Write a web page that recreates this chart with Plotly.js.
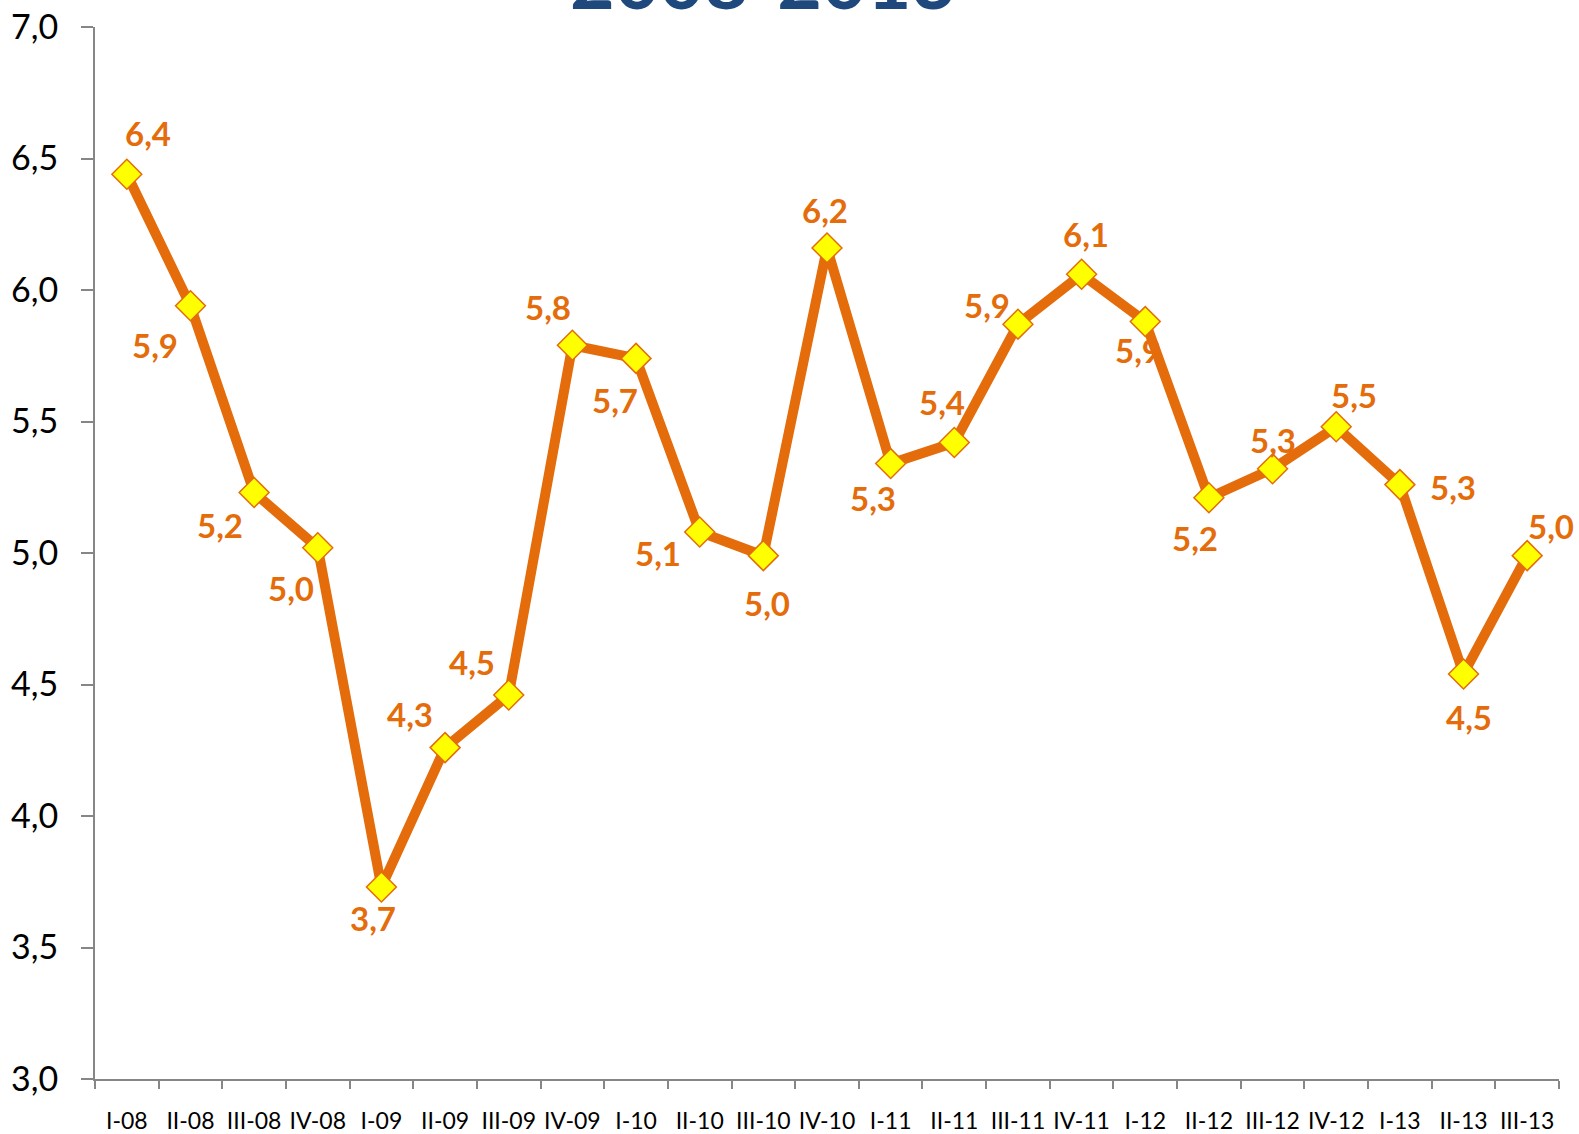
<!DOCTYPE html>
<html>
<head>
<meta charset="utf-8">
<script src="https://cdn.plot.ly/plotly-3.0.1.min.js"></script>
<style>html,body{margin:0;padding:0;background:#fff;}#chart{width:1579px;height:1134px;}</style>
</head>
<body>
<div id="chart"></div>
<script>
const categories = ["I-08","II-08","III-08","IV-08","I-09","II-09","III-09","IV-09","I-10","II-10","III-10","IV-10","I-11","II-11","III-11","IV-11","I-12","II-12","III-12","IV-12","I-13","II-13","III-13"];
const values = [6.44, 5.94, 5.23, 5.02, 3.73, 4.26, 4.46, 5.79, 5.74, 5.08, 4.99, 6.16, 5.34, 5.42, 5.87, 6.06, 5.88, 5.21, 5.32, 5.48, 5.26, 4.54, 4.99];
const yTickValues = [3.0, 3.5, 4.0, 4.5, 5.0, 5.5, 6.0, 6.5, 7.0];
const titleText = "2008-2013";

// label offsets in pixels (style only)
const labelDX = [21, -35, -34, -27, -8, -35, -37, -24, -21, -42, 4, -2, -18, -12, -31, 4, -7, -14, 0, 18, 53, 5, 24];
const labelDY = [-41, 39, 32, 40, 31, -34, -33, -38, 42, 21, 47, -38, 34, -41, -19, -40, 28, 40, -29, -32, 2, 43, -30];

const fmt = v => v.toFixed(1).replace('.', ',');

const annotations = categories.map((c, i) => ({
  x: c, y: values[i], xref: 'x', yref: 'y',
  text: '<b>' + fmt(values[i]) + '</b>',
  showarrow: false, xshift: labelDX[i], yshift: -labelDY[i],
  font: {family: 'Lato, sans-serif', size: 33, color: '#E46C0A'}
}));
annotations.push({
  x: 0.4563, y: 1, xref: 'paper', yref: 'paper', xanchor: 'center', yanchor: 'bottom',
  text: '<b>' + titleText + '</b>', showarrow: false, yshift: 0,
  font: {family: 'Lato, sans-serif', size: 77, color: '#1F497D'}
});

const trace = {
  x: categories, y: values, type: 'scatter', mode: 'lines+markers',
  line: {color: '#E46C0A', width: 10},
  marker: {symbol: 'diamond', size: 23, color: '#FFFF00', line: {color: '#E46C0A', width: 1.5}},
  cliponaxis: false, hoverinfo: 'skip'
};

const layout = {
  width: 1579, height: 1134,
  margin: {l: 95, r: 20, t: 27, b: 55},
  paper_bgcolor: '#ffffff', plot_bgcolor: '#ffffff',
  separators: ', ',
  showlegend: false,
  font: {family: 'Lato, sans-serif', color: '#000'},
  xaxis: {
    type: 'category', range: [-0.5, 22.5], showgrid: false, zeroline: false,
    showline: true, linecolor: '#868686', linewidth: 2,
    ticks: 'outside', tickson: 'boundaries', ticklen: 8, tickcolor: '#868686', tickwidth: 2,
    tickfont: {family: 'Lato, sans-serif', size: 23, color: '#000'},
    tickangle: 0, automargin: false,
    ticklabelstandoff: 20, fixedrange: true
  },
  yaxis: {
    range: [3, 7], tickvals: yTickValues, tickformat: '.1f',
    showgrid: false, zeroline: false,
    showline: true, linecolor: '#868686', linewidth: 2,
    ticks: 'outside', ticklen: 12, tickcolor: '#868686', tickwidth: 2,
    tickfont: {family: 'Lato, sans-serif', size: 34, color: '#000'},
    ticklabelstandoff: 16, fixedrange: true
  },
  annotations: annotations
};

Plotly.newPlot('chart', [trace], layout, {staticPlot: true, displayModeBar: false});
</script>
</body>
</html>
